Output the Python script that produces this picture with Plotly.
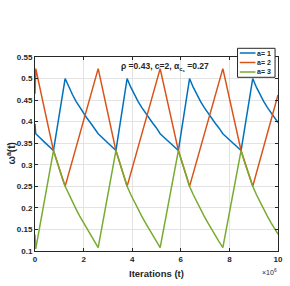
import plotly.graph_objects as go

# ---- data (t in units of 1e6 iterations) ----
t_a1 = [0, 0.03, 0.40, 0.76,
        1.24, 1.39, 1.54, 1.69, 1.84, 1.99, 2.14, 2.29, 2.44, 2.60, 3.33,
        3.79, 3.94, 4.09, 4.24, 4.39, 4.54, 4.69, 4.84, 4.99, 5.15, 5.90,
        6.36, 6.51, 6.66, 6.81, 6.96, 7.11, 7.26, 7.41, 7.56, 7.73, 8.48,
        8.96, 9.11, 9.26, 9.41, 9.56, 9.71, 9.86, 10.0]
w_a1 = [0.395, 0.372, 0.352, 0.333,
        0.500, 0.480, 0.463, 0.447, 0.433, 0.420, 0.408, 0.397, 0.386, 0.372, 0.333,
        0.500, 0.480, 0.463, 0.447, 0.433, 0.420, 0.408, 0.397, 0.386, 0.372, 0.333,
        0.500, 0.480, 0.463, 0.447, 0.433, 0.420, 0.408, 0.397, 0.386, 0.372, 0.333,
        0.500, 0.480, 0.463, 0.447, 0.433, 0.420, 0.408, 0.398]

t_a2 = [0, 0.03, 0.76, 1.24, 2.60, 3.33, 3.79, 5.15, 5.90, 6.36, 7.73, 8.48, 8.96, 10.0]
w_a2 = [0.465, 0.523, 0.333, 0.250, 0.523, 0.333, 0.250, 0.523, 0.333, 0.250, 0.523, 0.333, 0.250, 0.462]

t_a3 = [0, 0.03,
        0.76, 0.88, 1.00, 1.12, 1.24, 1.39, 1.54, 1.69, 1.84, 1.99, 2.14, 2.29, 2.44, 2.60,
        3.33, 3.45, 3.57, 3.69, 3.79, 3.94, 4.09, 4.24, 4.39, 4.54, 4.69, 4.84, 4.99, 5.15,
        5.90, 6.02, 6.14, 6.26, 6.36, 6.51, 6.66, 6.81, 6.96, 7.11, 7.26, 7.41, 7.56, 7.73,
        8.48, 8.60, 8.72, 8.84, 8.96, 9.11, 9.26, 9.41, 9.56, 9.71, 9.86, 10.0]
w_a3 = [0.138, 0.105,
        0.333, 0.310, 0.289, 0.269, 0.250, 0.231, 0.213, 0.197, 0.181, 0.166, 0.151, 0.137, 0.123, 0.108,
        0.333, 0.310, 0.289, 0.269, 0.250, 0.231, 0.213, 0.197, 0.181, 0.166, 0.151, 0.137, 0.123, 0.108,
        0.333, 0.310, 0.289, 0.269, 0.250, 0.231, 0.213, 0.197, 0.181, 0.166, 0.151, 0.137, 0.123, 0.108,
        0.333, 0.310, 0.289, 0.269, 0.250, 0.231, 0.213, 0.197, 0.181, 0.166, 0.151, 0.139]

series_names = ["a= 1", "a= 2", "a= 3"]
colors = ["#0072BD", "#D95319", "#77AC30"]
x_ticks = [0, 2, 4, 6, 8, 10]
y_ticks = [0.1, 0.15, 0.2, 0.25, 0.3, 0.35, 0.4, 0.45, 0.5, 0.55]
y_ticklabels = ["0.1", "0.15", "0.2", "0.25", "0.3", "0.35", "0.4", "0.45", "0.5", "0.55"]

W, H = 290, 286
L, R, T, B = 35, 283, 57, 251


def px(xp):
    return (xp - L) / (R - L)


def py(yp):
    return (B - yp) / (B - T)


FONT = "Liberation Sans"
TXT = "#262626"

fig = go.Figure()
for tt, ww, c, n in zip([t_a1, t_a2, t_a3], [w_a1, w_a2, w_a3], colors, series_names):
    fig.add_trace(go.Scatter(x=tt, y=ww, name=n, mode="lines", line=dict(color=c, width=1.5), showlegend=False))

axis_common = dict(
    showline=True, linecolor=TXT, linewidth=1, mirror="allticks",
    ticks="inside", ticklen=3, tickwidth=0.8, tickcolor=TXT,
    showgrid=True, gridcolor="#e3e3e3", gridwidth=1, zeroline=False,
    tickfont=dict(family=FONT, size=8, color=TXT, weight="bold"),
)
fig.update_xaxes(range=[0, 10], tickvals=x_ticks, ticktext=[str(v) for v in x_ticks], **axis_common)
fig.update_yaxes(range=[0.1, 0.55], tickvals=y_ticks, ticktext=y_ticklabels, **axis_common)

shapes = []
annotations = []

# legend box (drawn manually to match compact MATLAB-style layout)
shapes.append(dict(type="rect", xref="paper", yref="paper", x0=px(241.7), x1=px(280), y0=py(77.3), y1=py(48.3),
                   line=dict(color=TXT, width=1), fillcolor="white", layer="above"))
for name, c, yy in zip(series_names, colors, [53.0, 62.5, 72.0]):
    shapes.append(dict(type="line", xref="paper", yref="paper", x0=px(244), x1=px(260), y0=py(yy), y1=py(yy),
                       line=dict(color=c, width=1.5), layer="above"))
    annotations.append(dict(xref="paper", yref="paper", x=px(261), y=py(yy), text=name, showarrow=False,
                            xanchor="left", yanchor="middle", borderpad=0,
                            font=dict(family=FONT, size=7, color=TXT, weight="bold")))

# in-plot title
annotations.append(dict(xref="paper", yref="paper", x=px(168), y=py(67), showarrow=False,
                        text="ρ =0.43, c=2, α<sub>c<sub>s</sub></sub> =0.27", xanchor="center", yanchor="middle",
                        font=dict(family=FONT, size=8.5, color=TXT, weight="bold")))
# axis labels
annotations.append(dict(xref="paper", yref="paper", x=0.5, y=py(273), showarrow=False,
                        text="Iterations (t)", xanchor="center", yanchor="middle",
                        font=dict(family=FONT, size=9.5, color=TXT, weight="bold")))
annotations.append(dict(xref="paper", yref="paper", x=px(10), y=0.5, showarrow=False, textangle=-90,
                        text="ω<sup>a</sup>(t)", xanchor="center", yanchor="middle",
                        font=dict(family=FONT, size=10, color=TXT, weight="bold")))
annotations.append(dict(xref="paper", yref="paper", x=px(284), y=py(272), showarrow=False,
                        text="×10<sup>6</sup>", xanchor="right", yanchor="middle",
                        font=dict(family=FONT, size=7, color=TXT)))

fig.update_layout(
    width=W, height=H,
    margin=dict(l=L, r=W - R, t=T, b=H - B, pad=0),
    paper_bgcolor="white", plot_bgcolor="white",
    shapes=shapes, annotations=annotations,
    showlegend=False,
)

fig.write_html("out.html", config={"displayModeBar": False},
               post_script="document.body.style.margin='0';")
